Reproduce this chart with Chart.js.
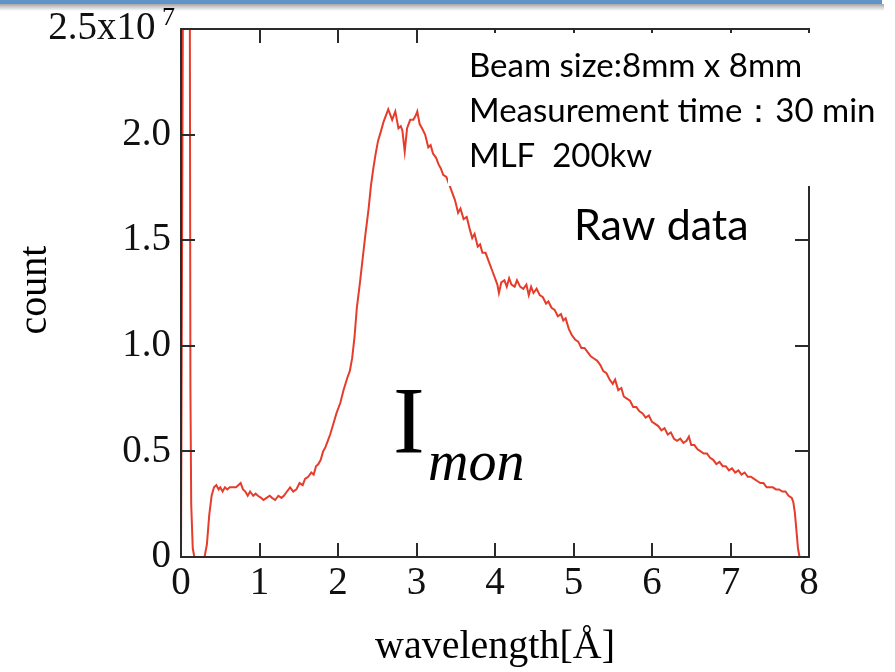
<!DOCTYPE html>
<html>
<head>
  <title>Imon raw data</title>
  <!-- Chart.js -->
  <script src="https://cdn.jsdelivr.net/npm/chart.js"></script>
  <style>
    body {
      margin: 0;
      background: #fff;
    }
    #wrap {
      position: relative;
      width: 895px;
      height: 672px;
    }
  </style>
</head>
<body>
  <div id="wrap"><canvas id="chart" width="895" height="672"></canvas></div>

  <script>
    // wavelength [Å]
    const wavelength = [
      0.00, 0.025, 0.07, 0.112, 0.12, 0.13, 0.15, 0.17, 0.30, 0.33, 0.36, 0.39, 0.42, 0.45,
      0.48, 0.50, 0.53, 0.56, 0.59, 0.62, 0.66, 0.70, 0.73, 0.76, 0.79, 0.82, 0.85, 0.88,
      0.92, 0.95, 0.98, 1.02, 1.05, 1.09, 1.13, 1.16, 1.20, 1.24, 1.28, 1.31, 1.35, 1.39,
      1.43, 1.47, 1.51, 1.55, 1.58, 1.62, 1.66, 1.69, 1.72, 1.75, 1.78, 1.81, 1.84, 1.87,
      1.90, 1.94, 1.98, 2.03, 2.07, 2.12, 2.15, 2.18, 2.21, 2.24, 2.28, 2.31, 2.35, 2.39,
      2.42, 2.45, 2.48, 2.51, 2.55, 2.58, 2.61, 2.64, 2.67, 2.69, 2.71, 2.73, 2.75, 2.77,
      2.80, 2.82, 2.85, 2.88, 2.92, 2.96, 2.99, 3.01, 3.04, 3.07, 3.11, 3.15, 3.18, 3.21,
      3.25, 3.28, 3.31, 3.34, 3.38, 3.41, 3.45, 3.49, 3.53, 3.56, 3.60, 3.64, 3.68, 3.71,
      3.74, 3.78, 3.81, 3.84, 3.88, 3.92, 3.96, 4.00, 4.03, 4.05, 4.08, 4.12, 4.15, 4.18,
      4.21, 4.25, 4.28, 4.32, 4.36, 4.40, 4.43, 4.46, 4.49, 4.53, 4.57, 4.61, 4.65, 4.68,
      4.72, 4.76, 4.80, 4.84, 4.87, 4.90, 4.94, 4.98, 5.02, 5.06, 5.10, 5.14, 5.18, 5.22,
      5.26, 5.30, 5.34, 5.38, 5.42, 5.46, 5.50, 5.53, 5.57, 5.61, 5.64, 5.68, 5.72, 5.76,
      5.80, 5.84, 5.88, 5.92, 5.96, 6.00, 6.04, 6.08, 6.12, 6.16, 6.20, 6.24, 6.28, 6.32,
      6.36, 6.40, 6.44, 6.47, 6.50, 6.54, 6.58, 6.62, 6.66, 6.70, 6.74, 6.78, 6.82, 6.86,
      6.90, 6.94, 6.98, 7.02, 7.06, 7.10, 7.14, 7.18, 7.22, 7.26, 7.30, 7.34, 7.38, 7.42,
      7.46, 7.50, 7.54, 7.58, 7.62, 7.66, 7.70, 7.74, 7.78, 7.80, 7.82, 7.86, 7.88, 8.00
    ];

    // count, in units of 10^7
    const countE7 = [
      0.00, 2.70, 3.00, 2.70, 0.80, 0.25, 0.04, 0.00, 0.00, 0.06, 0.20, 0.29, 0.33, 0.34,
      0.32, 0.33, 0.31, 0.33, 0.32, 0.33, 0.33, 0.33, 0.34, 0.35, 0.32, 0.31, 0.29, 0.31,
      0.29, 0.30, 0.29, 0.28, 0.27, 0.28, 0.29, 0.28, 0.27, 0.29, 0.28, 0.29, 0.31, 0.33,
      0.31, 0.32, 0.35, 0.34, 0.37, 0.38, 0.40, 0.39, 0.43, 0.44, 0.46, 0.50, 0.52, 0.55,
      0.58, 0.63, 0.68, 0.73, 0.79, 0.85, 0.88, 0.94, 1.04, 1.18, 1.30, 1.40, 1.53, 1.65,
      1.76, 1.84, 1.91, 1.97, 2.02, 2.06, 2.09, 2.12, 2.09, 2.07, 2.09, 2.11, 2.07, 2.03,
      2.04, 2.02, 1.92, 2.03, 2.07, 2.07, 2.09, 2.11, 2.05, 2.03, 2.00, 1.94, 1.95, 1.91,
      1.89, 1.86, 1.84, 1.81, 1.80, 1.77, 1.73, 1.69, 1.63, 1.65, 1.60, 1.61, 1.55, 1.51,
      1.53, 1.47, 1.48, 1.44, 1.44, 1.40, 1.36, 1.32, 1.29, 1.25, 1.30, 1.31, 1.28, 1.32,
      1.29, 1.28, 1.31, 1.28, 1.27, 1.29, 1.24, 1.28, 1.25, 1.27, 1.24, 1.23, 1.20, 1.21,
      1.18, 1.17, 1.14, 1.15, 1.12, 1.13, 1.08, 1.05, 1.03, 1.02, 0.99, 0.99, 0.97, 0.95,
      0.94, 0.93, 0.91, 0.88, 0.87, 0.84, 0.82, 0.84, 0.79, 0.80, 0.76, 0.75, 0.74, 0.71,
      0.71, 0.69, 0.68, 0.66, 0.67, 0.64, 0.63, 0.62, 0.60, 0.61, 0.58, 0.59, 0.56, 0.55,
      0.56, 0.54, 0.55, 0.57, 0.53, 0.53, 0.51, 0.50, 0.49, 0.49, 0.47, 0.46, 0.44, 0.45,
      0.43, 0.43, 0.41, 0.42, 0.40, 0.41, 0.39, 0.40, 0.38, 0.38, 0.37, 0.36, 0.35, 0.35,
      0.33, 0.33, 0.33, 0.32, 0.32, 0.31, 0.31, 0.29, 0.28, 0.26, 0.21, 0.04, 0.00, 0.00
    ];

    // axis ticks
    const xTickValues = [0, 1, 2, 3, 4, 5, 6, 7, 8];
    const yTickValues = [0, 0.5, 1.0, 1.5, 2.0, 2.5];
    // thin spaces after the top label leave room for the exponent
    const yTickLabels = ['0', '0.5', '1.0', '1.5', '2.0', '2.5x10\u2009\u2009'];
    const yTickExponent = '7';

    // annotation texts
    const infoLines = ['Beam size:8mm x 8mm', 'Measurement time\uFF1A30 min', 'MLF  200kw'];
    const rawLabel = 'Raw data';

    const serif = '"Liberation Serif", "Times New Roman", serif';
    const sans = 'Lato, "Open Sans", sans-serif';

    // frame, inward ticks, cover box, labels
    const decor = {
      id: 'decor',
      afterDatasetsDraw(chart) {
        const { ctx, chartArea: a, scales: { x, y } } = chart;
        ctx.save();

        // frame
        ctx.strokeStyle = '#2b2b2b';
        ctx.lineWidth = 2;
        ctx.strokeRect(a.left, a.top, a.right - a.left, a.bottom - a.top);

        // inward tick marks
        const tl = 14;
        ctx.beginPath();
        xTickValues.slice(1, -1).forEach(v => {
          const px = Math.round(x.getPixelForValue(v));
          ctx.moveTo(px, a.bottom); ctx.lineTo(px, a.bottom - tl);
          ctx.moveTo(px, a.top); ctx.lineTo(px, a.top + tl);
        });
        yTickValues.slice(1, -1).forEach(v => {
          const py = Math.round(y.getPixelForValue(v));
          ctx.moveTo(a.left, py); ctx.lineTo(a.left + tl, py);
          ctx.moveTo(a.right, py); ctx.lineTo(a.right - tl, py);
        });
        ctx.stroke();

        // white text box pasted over the plot
        ctx.fillStyle = '#fff';
        ctx.fillRect(448, 33, 447, 153);

        ctx.fillStyle = '#000';
        ctx.textAlign = 'left';
        ctx.textBaseline = 'alphabetic';
        ctx.font = '33px ' + sans;
        infoLines.forEach((t, i) => ctx.fillText(t, 469, 77 + i * 45));
        ctx.font = '43px ' + sans;
        ctx.fillText(rawLabel, 574, 240);

        // I_mon
        ctx.font = '95px ' + serif;
        ctx.fillText('I', 393, 453);
        ctx.font = 'italic 56px ' + serif;
        ctx.fillText('mon', 428, 480);

        // exponent on top tick label
        ctx.font = '26px ' + serif;
        ctx.fillText(yTickExponent, 162, 25);

        // axis titles
        ctx.font = '40px ' + serif;
        ctx.textAlign = 'center';
        ctx.fillText('wavelength[\u00C5]', (a.left + a.right) / 2, 658);
        ctx.translate(46, 290);
        ctx.rotate(-Math.PI / 2);
        ctx.fillText('count', 0, 0);
        ctx.restore();

        // blue bar across the top
        ctx.save();
        const g = ctx.createLinearGradient(0, 4, 0, 11);
        g.addColorStop(0, 'rgba(0,0,0,0.35)');
        g.addColorStop(1, 'rgba(0,0,0,0)');
        ctx.fillStyle = g;
        ctx.fillRect(0, 4, 884, 7);
        ctx.fillStyle = '#5e94c9';
        ctx.fillRect(0, 0, 882, 4);
        ctx.restore();
      }
    };

    const ctx = document.getElementById('chart').getContext('2d');
    const chart = new Chart(ctx, {
      type: 'line',
      data: {
        datasets: [{
          data: wavelength.map((w, i) => ({ x: w, y: countE7[i] })),
          borderColor: '#e63c2b',
          borderWidth: 2,
          pointRadius: 0,
          tension: 0,
          fill: false
        }]
      },
      options: {
        responsive: false,
        animation: false,
        devicePixelRatio: 1,
        layout: { padding: { top: 29, right: 86, left: 0, bottom: 0 } },
        plugins: {
          legend: { display: false },
          tooltip: { enabled: false }
        },
        scales: {
          x: {
            type: 'linear',
            min: 0,
            max: 8,
            afterBuildTicks: s => { s.ticks = xTickValues.map(v => ({ value: v })); },
            afterFit: s => { s.height = 115; },
            grid: { display: false, drawTicks: false },
            border: { display: false },
            ticks: {
              color: '#111',
              padding: 3,
              maxRotation: 0,
              font: { family: serif, size: 39 }
            }
          },
          y: {
            min: 0,
            max: 2.5,
            afterBuildTicks: s => { s.ticks = yTickValues.map(v => ({ value: v })); },
            afterFit: s => { s.width = 181; },
            // tick marks are drawn by the plugin; tickLength only offsets the labels
            grid: { display: false, drawTicks: true, tickLength: 8 },
            border: { display: false },
            ticks: {
              color: '#111',
              padding: 2,
              font: { family: serif, size: 39 },
              callback: v => yTickLabels[yTickValues.indexOf(v)]
            }
          }
        }
      },
      plugins: [decor]
    });
  </script>
</body>
</html>
